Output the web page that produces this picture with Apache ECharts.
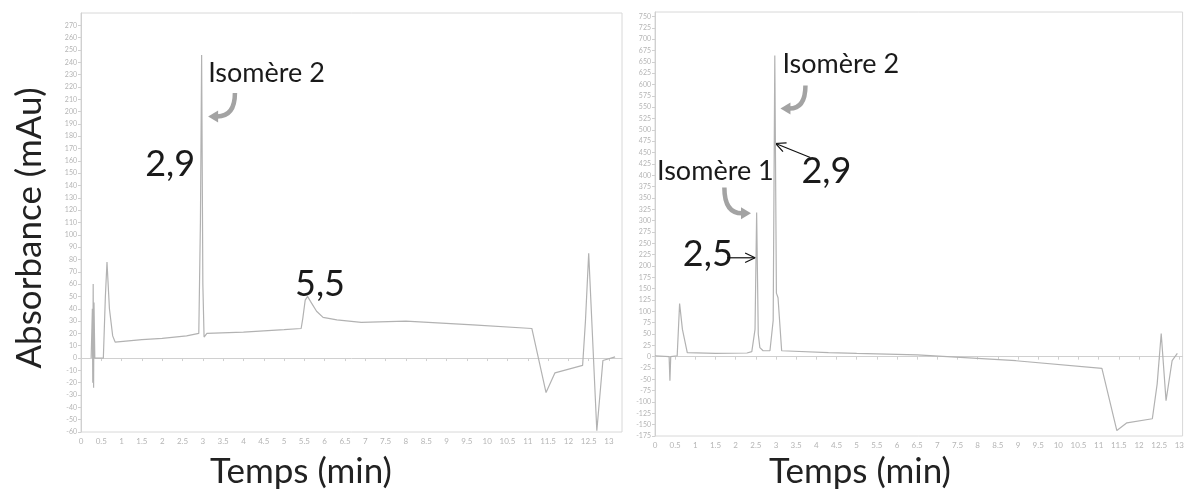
<!DOCTYPE html>
<html><head><meta charset="utf-8">
<script src="https://cdn.jsdelivr.net/npm/echarts@6/dist/echarts.min.js"></script>
<style>html,body{margin:0;padding:0;background:#fff}#c{width:1187px;height:494px}</style>
</head><body><div id="c"></div>
<script>
// ---- data (time in min, absorbance in mAU) ----
const leftTimes  = [0.25,0.28,0.29,0.30,0.31,0.32,0.34,0.55,0.60,0.64,0.70,0.78,0.84,1.5,2.0,2.6,2.9,2.94,2.97,3.00,3.03,3.1,4.0,5.0,5.42,5.46,5.52,5.58,5.65,5.8,5.96,6.3,6.9,8.0,9.65,11.1,11.45,11.67,12.35,12.42,12.5,12.7,12.85,13.15];
const leftValues = [0,40,-20,60,-24,45,0,0,50,78,40,18,13,15,16,18,20,110,246,60,17,20,21,23,24,32,47,50,46,38,33,31,29,30,27,24,-28,-12,-6,30,85,-59,-2,1];
const rightTimes  = [0,0.35,0.37,0.39,0.55,0.61,0.68,0.8,1.5,2.28,2.4,2.48,2.52,2.56,2.6,2.68,2.85,2.93,2.97,3.01,3.05,3.14,4.3,5.0,6.5,8.95,11.08,11.45,11.7,12.33,12.45,12.55,12.67,12.82,12.95];
const rightValues = [2,0,-53,0,2,117,60,9,7,8,11,60,318,50,20,13,13,80,664,140,130,13,9,7,4,-9,-26,-163,-146,-137,-60,51,-97,-9,7];
const xTickStep = 0.5;
const leftYStep = 10;
const rightYStep = 25;
const yTitle = 'Absorbance (mAu)';
const xTitle = 'Temps (min)';
const peakLabels = [
  {grid:0, x:3.13, y:231, text:'Isomère 2', size:27},
  {grid:0, x:1.58, y:157, text:'2,9', size:36},
  {grid:0, x:5.27, y:60, text:'5,5', size:36},
  {grid:1, x:3.16, y:645, text:'Isomère 2', size:27},
  {grid:1, x:3.63, y:409, text:'2,9', size:36},
  {grid:1, x:0.05, y:408, text:'Isomère 1', size:27},
  {grid:1, x:0.69, y:225, text:'2,5', size:36}
];
const curvedArrows = [
  {grid:0, from:[3.79,215], to:[3.13,196]},
  {grid:1, from:[3.73,598], to:[3.11,547]},
  {grid:1, from:[1.72,373], to:[2.38,316]}
];
const straightArrows = [
  {grid:1, from:[3.85,439], to:[2.99,470]},
  {grid:1, from:[1.79,218], to:[2.48,218]}
];

const FONT = 'Lato, "Open Sans", sans-serif';
const chart = echarts.init(document.getElementById('c'));
const axisGray = '#d0d0d0';
function xAx(g, max){
  return {gridIndex:g, type:'value', min:0, max:max, interval:xTickStep,
    axisLine:{lineStyle:{color:axisGray}}, axisTick:{length:3, lineStyle:{color:axisGray}},
    axisLabel:{fontSize:8, color:'#b5b5b5', margin:5, showMaxLabel:false, fontFamily:FONT},
    splitLine:{show:false}};
}
function yAx(g, min, max, step){
  return {gridIndex:g, type:'value', min:min, max:max, interval:step,
    axisLine:{show:true, lineStyle:{color:axisGray}}, axisTick:{show:true, length:3, lineStyle:{color:axisGray}},
    axisLabel:{fontSize:7, color:'#b5b5b5', margin:4, showMaxLabel:false, fontFamily:FONT},
    splitLine:{show:false}};
}
chart.setOption({
  animation:false,
  backgroundColor:'#fff',
  grid:[
    {left:81, top:13, width:541, height:419, show:true, borderColor:'#d8d8d8'},
    {left:655, top:12, width:534, height:424, show:true, borderColor:'#d8d8d8'}
  ],
  xAxis:[xAx(0, 13.32), xAx(1, 13.08)],
  yAxis:[yAx(0, -60, 280, leftYStep), yAx(1, -175, 760, rightYStep)],
  series:[
    {type:'line', xAxisIndex:0, yAxisIndex:0, showSymbol:false, data:leftTimes.map((t,i)=>[t,leftValues[i]]), lineStyle:{color:'#b2b2b2', width:1.2}},
    {type:'line', xAxisIndex:1, yAxisIndex:1, showSymbol:false, data:rightTimes.map((t,i)=>[t,rightValues[i]]), lineStyle:{color:'#b2b2b2', width:1.2}}
  ]
});

function px(g, p){ return chart.convertToPixel({gridIndex:g}, p); }
const els = [];
peakLabels.forEach(l=>{
  const p = px(l.grid, [l.x, l.y]);
  els.push({type:'text', x:p[0], y:p[1], style:{text:l.text, font:l.size+'px '+FONT, fill:'#1a1a1a', align:'left', verticalAlign:'middle'}});
});
curvedArrows.forEach(a=>{
  const s = px(a.grid, a.from), e = px(a.grid, a.to);
  const dir = Math.sign(e[0]-s[0]);
  const headLen = 9;
  const be = [e[0]-dir*headLen, e[1]];
  els.push({type:'bezierCurve', shape:{x1:s[0], y1:s[1], x2:be[0], y2:be[1], cpx1:s[0], cpy1:e[1]}, style:{stroke:'#a3a3a3', lineWidth:4.5, fill:null, lineCap:'butt'}});
  els.push({type:'polygon', shape:{points:[[e[0],e[1]],[be[0]-dir*1,e[1]-6],[be[0]-dir*1,e[1]+6]]}, style:{fill:'#a3a3a3'}});
});
straightArrows.forEach(a=>{
  const s = px(a.grid, a.from), e = px(a.grid, a.to);
  const ang = Math.atan2(e[1]-s[1], e[0]-s[0]);
  const L = 11, W = 0.45;
  const p1 = [e[0]-L*Math.cos(ang-W), e[1]-L*Math.sin(ang-W)];
  const p2 = [e[0]-L*Math.cos(ang+W), e[1]-L*Math.sin(ang+W)];
  els.push({type:'line', shape:{x1:s[0],y1:s[1],x2:e[0],y2:e[1]}, style:{stroke:'#111', lineWidth:1.2}});
  els.push({type:'polyline', shape:{points:[p1,e,p2]}, style:{stroke:'#111', lineWidth:1.2, fill:null}});
});
els.push({type:'text', x:30, y:228, rotation:Math.PI/2, style:{text:yTitle, font:'35px '+FONT, fill:'#222', align:'center', verticalAlign:'middle'}});
els.push({type:'text', x:301, y:472, style:{text:xTitle, font:'35px '+FONT, fill:'#222', align:'center', verticalAlign:'middle'}});
els.push({type:'text', x:860, y:472, style:{text:xTitle, font:'35px '+FONT, fill:'#222', align:'center', verticalAlign:'middle'}});
chart.setOption({graphic:{elements:els}});
</script></body></html>
